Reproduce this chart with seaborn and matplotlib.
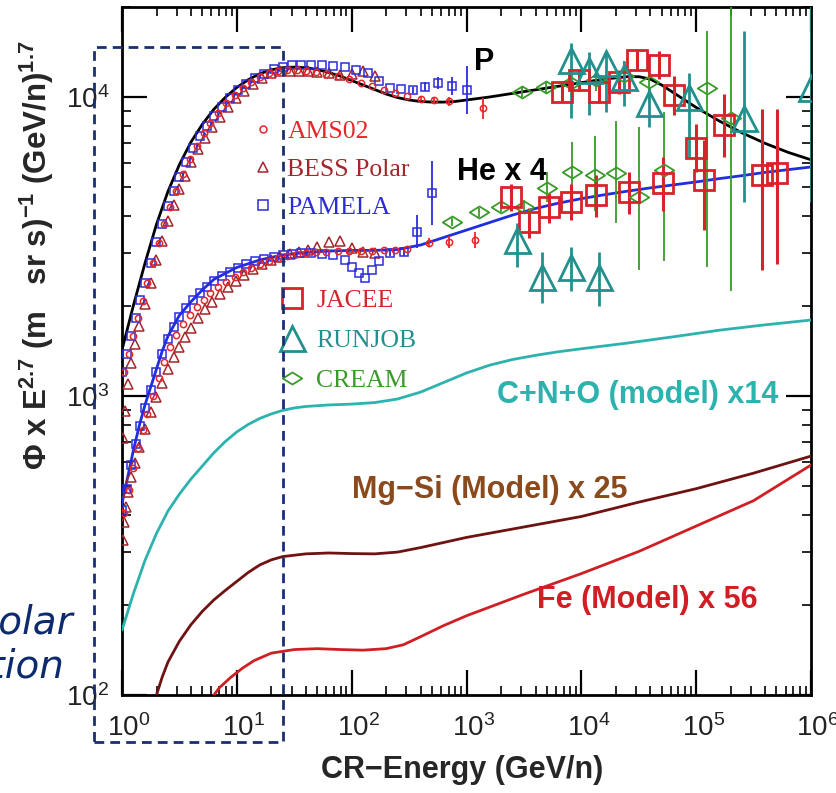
import numpy as np
import pandas as pd
import matplotlib
matplotlib.use("Agg")
import matplotlib.pyplot as plt
import matplotlib.transforms as mtransforms
import seaborn as sns
from matplotlib.lines import Line2D
from matplotlib.patches import Rectangle
from matplotlib.path import Path

# ------------------------------------------------------------------
# Model curves: log10(E [GeV/n]) and log10(flux x E^2.7)
# ------------------------------------------------------------------
p_model_logE = [0.0, 0.1, 0.2, 0.3, 0.4, 0.5, 0.6, 0.7, 0.8, 0.9, 1.0, 1.1, 1.2, 1.3, 1.4, 1.5,
                1.6, 1.7, 1.8, 1.9, 2.0, 2.1, 2.2, 2.3, 2.4, 2.5, 2.6, 2.7, 2.8, 2.9, 3.0, 3.1,
                3.2, 3.4, 3.6, 3.8, 4.0, 4.2, 4.4, 4.5, 4.6, 4.7, 4.8, 4.9, 5.0, 5.2, 5.4, 5.6,
                5.8, 6.0]
p_model_logF = [3.154, 3.304, 3.444, 3.574, 3.684, 3.774, 3.849, 3.909, 3.959, 3.999, 4.032, 4.058, 4.078, 4.091, 4.098, 4.1,
                4.098, 4.092, 4.082, 4.07, 4.055, 4.04, 4.025, 4.01, 3.998, 3.99, 3.985, 3.983, 3.983, 3.985, 3.99, 3.995,
                4.0, 4.012, 4.024, 4.036, 4.048, 4.06, 4.068, 4.068, 4.06, 4.04, 4.015, 3.99, 3.965, 3.92, 3.88, 3.845,
                3.815, 3.79]

he_model_logE = [0.0, 0.05, 0.1, 0.15, 0.2, 0.25, 0.3, 0.35, 0.4, 0.5, 0.6, 0.7, 0.8, 0.9, 1.0, 1.2,
                 1.4, 1.6, 1.8, 2.0, 2.2, 2.4, 2.6, 2.8, 3.0, 3.2, 3.4, 3.6, 3.8, 4.0, 4.2, 4.4,
                 4.6, 4.8, 5.0, 5.2, 5.4, 5.6, 5.8, 6.0]
he_model_logF = [2.64, 2.73, 2.82, 2.90, 2.97, 3.03, 3.09, 3.15, 3.2, 3.27, 3.315, 3.355, 3.39, 3.41, 3.43, 3.455,
                 3.472, 3.48, 3.485, 3.487, 3.487, 3.49, 3.505, 3.53, 3.555, 3.58, 3.605, 3.627, 3.645, 3.66, 3.673, 3.685,
                 3.696, 3.706, 3.716, 3.727, 3.737, 3.748, 3.757, 3.766]

cno_model_logE = [0.0, 0.1, 0.2, 0.3, 0.4, 0.5, 0.6, 0.7, 0.8, 0.9, 1.0, 1.1, 1.2, 1.3, 1.4, 1.5, 1.6,
                  1.8, 2.0, 2.2, 2.4, 2.6, 2.8, 3.0, 3.2, 3.4, 3.6, 3.8, 4.0, 4.4, 4.8, 5.2, 5.6, 6.0]
cno_model_logF = [2.217, 2.34, 2.45, 2.54, 2.615, 2.672, 2.722, 2.766, 2.81, 2.848, 2.88, 2.905, 2.925, 2.94, 2.952, 2.96, 2.965,
                  2.97, 2.973, 2.978, 2.99, 3.013, 3.045, 3.077, 3.103, 3.122, 3.136, 3.148, 3.158, 3.177, 3.198, 3.22, 3.238, 3.254]

mgsi_model_logE = [0.28, 0.3, 0.35, 0.4, 0.5, 0.6, 0.7, 0.8, 0.9, 1.0, 1.1, 1.2, 1.3, 1.4, 1.6, 1.8,
                   2.0, 2.2, 2.4, 2.6, 2.8, 3.0, 3.5, 4.0, 4.5, 5.0, 5.5, 6.0]
mgsi_model_logF = [1.98, 2.0, 2.06, 2.11, 2.18, 2.235, 2.28, 2.318, 2.35, 2.38, 2.41, 2.435, 2.452, 2.463, 2.472, 2.475,
                   2.473, 2.472, 2.478, 2.493, 2.51, 2.527, 2.562, 2.597, 2.645, 2.69, 2.742, 2.799]

fe_model_logE = [0.76, 0.78, 0.85, 0.95, 1.05, 1.15, 1.3, 1.5, 1.7, 1.9, 2.1, 2.3, 2.45, 2.6, 2.8,
                 3.0, 3.5, 4.0, 4.5, 5.0, 5.5, 6.0]
fe_model_logF = [1.98, 1.99, 2.025, 2.06, 2.09, 2.115, 2.14, 2.152, 2.155, 2.152, 2.15, 2.155, 2.168, 2.195, 2.232,
                 2.265, 2.337, 2.406, 2.48, 2.565, 2.65, 2.769]

# ------------------------------------------------------------------
# Low-energy measurements (log10 E, log10 flux, error half-width in dex)
# ------------------------------------------------------------------
pamela_p_logE = [0.0, 0.04, 0.08, 0.12, 0.16, 0.2, 0.25, 0.3, 0.35, 0.4, 0.45, 0.5, 0.56, 0.62, 0.68, 0.74,
                 0.8, 0.87, 0.94, 1.01, 1.08, 1.16, 1.24, 1.32, 1.4, 1.48, 1.56, 1.65, 1.74, 1.84, 1.94,
                 2.04, 2.14, 2.24, 2.33, 2.43, 2.53, 2.64, 2.75, 2.87, 3.0]
pamela_p_logF = [3.08, 3.139, 3.2, 3.262, 3.32, 3.378, 3.446, 3.514, 3.574, 3.634, 3.684, 3.734, 3.783, 3.829, 3.869, 3.904,
                 3.937, 3.968, 3.996, 4.022, 4.042, 4.062, 4.078, 4.093, 4.1, 4.106, 4.108, 4.108, 4.106, 4.104, 4.099,
                 4.091, 4.081, 4.054, 4.03, 4.026, 4.023, 4.035, 4.047, 4.037, 4.023]
pamela_p_err = [0] * 36 + [0.01, 0.015, 0.02, 0.03, 0.08]

ams02_p_logE = [0.02, 0.06, 0.1, 0.14, 0.18, 0.22, 0.27, 0.32, 0.37, 0.42, 0.47, 0.53, 0.59, 0.65, 0.71, 0.77,
                0.84, 0.91, 0.98, 1.05, 1.12, 1.2, 1.28, 1.36, 1.44, 1.52, 1.6, 1.69, 1.78, 1.88, 1.98,
                2.08, 2.18, 2.28, 2.38, 2.48, 2.6, 2.72, 2.85, 3.14]
ams02_p_logF = [3.079, 3.139, 3.202, 3.26, 3.319, 3.377, 3.444, 3.511, 3.574, 3.632, 3.687, 3.744, 3.792, 3.837, 3.879, 3.912,
                3.948, 3.979, 4.006, 4.029, 4.05, 4.068, 4.08, 4.087, 4.09, 4.09, 4.088, 4.085, 4.078, 4.07, 4.06,
                4.048, 4.038, 4.025, 4.012, 4.002, 3.995, 3.99, 3.985, 3.963]
ams02_p_err = [0] * 36 + [0.01, 0.01, 0.015, 0.035]

bess_p_logE = [0.005, 0.025, 0.05, 0.08, 0.11, 0.15, 0.2, 0.25, 0.3, 0.35, 0.4, 0.45, 0.5, 0.55, 0.6, 0.66,
               0.72, 0.78, 0.85, 0.92, 0.99, 1.06, 1.14, 1.22, 1.3, 1.38, 1.46, 1.54, 1.62, 1.7, 1.8, 1.9,
               2.0, 2.1, 2.2]
bess_p_logF = [2.86, 2.95, 3.04, 3.11, 3.175, 3.234, 3.309, 3.379, 3.454, 3.519, 3.584, 3.639, 3.692, 3.737, 3.781, 3.825,
               3.864, 3.899, 3.934, 3.966, 3.996, 4.02, 4.044, 4.064, 4.079, 4.086, 4.088, 4.088, 4.086, 4.085, 4.08, 4.075,
               4.078, 4.086, 4.07]

pamela_he_logE = [0.0, 0.04, 0.08, 0.12, 0.16, 0.2, 0.25, 0.3, 0.35, 0.4, 0.45, 0.5, 0.56, 0.62, 0.68, 0.74,
                  0.8, 0.87, 0.94, 1.01, 1.08, 1.16, 1.24, 1.32, 1.4, 1.48, 1.56, 1.65, 1.74, 1.84, 1.94,
                  2.0, 2.06, 2.12, 2.18, 2.24, 2.33, 2.46, 2.565, 2.696]
pamela_he_logF = [2.62, 2.69, 2.77, 2.84, 2.9, 2.96, 3.02, 3.08, 3.14, 3.19, 3.23, 3.265, 3.295, 3.32, 3.345, 3.365,
                  3.385, 3.4, 3.415, 3.428, 3.44, 3.45, 3.458, 3.465, 3.47, 3.474, 3.477, 3.478, 3.475, 3.47, 3.455,
                  3.43, 3.41, 3.395, 3.42, 3.45, 3.478, 3.482, 3.549, 3.679]
pamela_he_err = [0] * 36 + [0.01, 0.015, 0.055, 0.107]

ams02_he_logE = [0.02, 0.06, 0.1, 0.14, 0.18, 0.22, 0.27, 0.32, 0.37, 0.42, 0.47, 0.53, 0.59, 0.65, 0.71, 0.77,
                 0.84, 0.91, 0.98, 1.05, 1.12, 1.2, 1.28, 1.36, 1.44, 1.52, 1.6, 1.69, 1.78, 1.88, 1.98,
                 2.08, 2.18, 2.28, 2.38, 2.48, 2.67, 2.85, 3.07]
ams02_he_logF = [2.61, 2.685, 2.76, 2.825, 2.885, 2.94, 3.0, 3.06, 3.115, 3.165, 3.205, 3.24, 3.27, 3.298, 3.32, 3.343,
                 3.365, 3.38, 3.398, 3.415, 3.428, 3.44, 3.452, 3.46, 3.468, 3.474, 3.478, 3.48, 3.482, 3.484, 3.485,
                 3.486, 3.486, 3.487, 3.488, 3.49, 3.512, 3.515, 3.522]
ams02_he_err = [0] * 36 + [0.015, 0.02, 0.027]

bess_he_logE = [0.005, 0.02, 0.035, 0.05, 0.08, 0.11, 0.15, 0.2, 0.25, 0.3, 0.35, 0.4, 0.45, 0.5, 0.55, 0.6,
                0.66, 0.72, 0.78, 0.85, 0.92, 0.99, 1.06, 1.14, 1.22, 1.3, 1.38, 1.46, 1.54, 1.62, 1.7, 1.8,
                1.9, 2.0, 2.1, 2.2]
bess_he_logF = [2.52, 2.58, 2.63, 2.68, 2.73, 2.775, 2.83, 2.89, 2.945, 2.995, 3.045, 3.09, 3.13, 3.165, 3.198, 3.228,
                3.26, 3.29, 3.315, 3.34, 3.365, 3.385, 3.405, 3.425, 3.44, 3.455, 3.465, 3.475, 3.48, 3.488, 3.5, 3.515,
                3.52, 3.495, 3.48, 3.478]

# ------------------------------------------------------------------
# High-energy measurements (log10 E, log10 flux, lower / upper ends of error bar)
# ------------------------------------------------------------------
jacee_p_logE = [3.835, 3.98, 4.157, 4.33, 4.487, 4.678, 4.81, 5.0, 5.24]
jacee_p_logF = [4.017, 4.057, 4.017, 4.05, 4.124, 4.107, 4.007, 3.829, 3.906]
jacee_p_lo = [3.987, 4.02, 3.98, 4.01, 4.09, 4.06, 3.94, 3.75, 3.80]
jacee_p_hi = [4.047, 4.094, 4.054, 4.09, 4.16, 4.155, 4.07, 3.91, 4.01]

jacee_he_logE = [3.39, 3.548, 3.722, 3.913, 4.13, 4.417, 4.713, 5.07, 5.574, 5.704]
jacee_he_logF = [3.666, 3.582, 3.632, 3.649, 3.672, 3.682, 3.712, 3.722, 3.739, 3.746]
jacee_he_lo = [3.62, 3.53, 3.58, 3.59, 3.60, 3.61, 3.62, 3.555, 3.42, 3.44]
jacee_he_hi = [3.71, 3.63, 3.68, 3.71, 3.74, 3.75, 3.80, 3.856, 3.96, 3.96]

runjob_p_logE = [3.913, 4.07, 4.217, 4.374, 4.59, 4.94, 5.417, 6.0]
runjob_p_logF = [4.124, 4.09, 4.114, 4.067, 3.98, 4.0, 3.93, 4.03]
runjob_p_lo = [3.93, 3.94, 3.95, 3.97, 3.9, 3.8, 3.65, 3.65]
runjob_p_hi = [4.18, 4.15, 4.15, 4.12, 4.03, 4.08, 4.22, 4.4]

runjob_he_logE = [3.443, 3.66, 3.913, 4.157]
runjob_he_logF = [3.522, 3.398, 3.431, 3.398]
runjob_he_lo = [3.43, 3.31, 3.35, 3.30]
runjob_he_hi = [3.58, 3.48, 3.50, 3.48]

cream_p_logE = [3.487, 3.696, 3.913, 4.13, 4.374, 4.59, 5.096, 5.3]
cream_p_logF = [4.017, 4.033, 4.047, 4.057, 4.07, 4.05, 4.03, 3.93]
cream_p_lo = [4.0, 4.015, 4.02, 4.02, 4.02, 3.98, 3.43, 3.35]
cream_p_hi = [4.035, 4.05, 4.075, 4.095, 4.12, 4.12, 4.22, 4.3]

cream_he_logE = [2.878, 3.113, 3.304, 3.5, 3.704, 3.922, 4.12, 4.304, 4.504, 4.722]
cream_he_logF = [3.582, 3.615, 3.632, 3.632, 3.696, 3.749, 3.739, 3.746, 3.666, 3.756]
cream_he_lo = [3.57, 3.60, 3.615, 3.61, 3.65, 3.66, 3.62, 3.58, 3.42, 3.45]
cream_he_hi = [3.595, 3.63, 3.65, 3.655, 3.75, 3.85, 3.87, 3.92, 3.9, 3.95]

# ------------------------------------------------------------------
# Colours
# ------------------------------------------------------------------
c_ams = "#e8262a"
c_bess = "#a3262a"
c_pamela = "#2b2bdc"
c_jacee = "#d8232a"
c_runjob = "#22908d"
c_cream = "#3a9a2a"
c_he_line = "#1f2fe0"
c_cno = "#2cb3ad"
c_mgsi = "#6e1212"
c_mgsi_txt = "#8b4a1c"
c_fe = "#d01f24"
c_navy = "#1b2f6e"

sns.set_theme(style="ticks")
plt.rcParams["font.family"] = ["Liberation Sans", "DejaVu Sans"]
plt.rcParams["mathtext.fontset"] = "custom"
plt.rcParams["mathtext.rm"] = "Liberation Sans"
plt.rcParams["mathtext.it"] = "Liberation Sans:italic"
plt.rcParams["mathtext.bf"] = "Liberation Sans:bold"

W, H = 836, 793
fig = plt.figure(figsize=(W / 100, H / 100), dpi=100)
ax = fig.add_axes([122 / W, 1 - 695 / H, (811 - 122) / W, (695 - 7) / H])
ax.set_xscale("log")
ax.set_yscale("log")
ax.set_xlim(1, 1e6)
ax.set_ylim(100, 2e4)


def lin(v):
    return 10 ** np.asarray(v, dtype=float)


def model(logE, logF, color):
    df = pd.DataFrame({"E": lin(logE), "F": lin(logF)})
    sns.lineplot(data=df, x="E", y="F", color=color, lw=2.0, ax=ax,
                 sort=False, estimator=None, zorder=3)


def points(logE, logF, err, marker, color, ms, mew):
    E, F = lin(logE), lin(logF)
    e = np.asarray(err, dtype=float)
    mask = e > 0
    if mask.any():
        ax.errorbar(E[mask], F[mask],
                    yerr=[F[mask] - F[mask] * 10 ** -e[mask], F[mask] * 10 ** e[mask] - F[mask]],
                    fmt="none", ecolor=color, elinewidth=1.3, capsize=0, zorder=4)
    ax.plot(E, F, ls="none", marker=marker, mfc="none", mec=color, ms=ms, mew=mew, zorder=5)


def big_points(logE, logF, lo, hi, marker, color, ms, mew, elw):
    E, F = lin(logE), lin(logF)
    ax.errorbar(E, F, yerr=[F - lin(lo), lin(hi) - F], fmt="none", ecolor=color,
                elinewidth=elw, capsize=0, zorder=4)
    ax.plot(E, F, ls="none", marker=marker, mfc="none", mec=color, ms=ms, mew=mew, zorder=5)


diamond = Path([(-1, 0), (0, 0.62), (1, 0), (0, -0.62), (-1, 0)],
               [Path.MOVETO, Path.LINETO, Path.LINETO, Path.LINETO, Path.CLOSEPOLY])

# model curves (drawn first, data on top)
model(p_model_logE, p_model_logF, "black")
model(he_model_logE, he_model_logF, c_he_line)
model(cno_model_logE, cno_model_logF, c_cno)
model(mgsi_model_logE, mgsi_model_logF, c_mgsi)
model(fe_model_logE, fe_model_logF, c_fe)

# low-energy data
points(bess_p_logE, bess_p_logF, [0] * len(bess_p_logE), "^", c_bess, 7, 1.1)
points(bess_he_logE, bess_he_logF, [0] * len(bess_he_logE), "^", c_bess, 7, 1.1)
points(pamela_p_logE, pamela_p_logF, pamela_p_err, "s", c_pamela, 6, 1.1)
points(pamela_he_logE, pamela_he_logF, pamela_he_err, "s", c_pamela, 6, 1.1)
points(ams02_p_logE, ams02_p_logF, ams02_p_err, "o", c_ams, 4.5, 1.1)
points(ams02_he_logE, ams02_he_logF, ams02_he_err, "o", c_ams, 4.5, 1.1)

# high-energy data
big_points(cream_p_logE, cream_p_logF, cream_p_lo, cream_p_hi, diamond, c_cream, 14, 1.3, 1.3)
big_points(cream_he_logE, cream_he_logF, cream_he_lo, cream_he_hi, diamond, c_cream, 14, 1.3, 1.3)
big_points(jacee_p_logE, jacee_p_logF, jacee_p_lo, jacee_p_hi, "s", c_jacee, 15, 2.0, 2.2)
big_points(jacee_he_logE, jacee_he_logF, jacee_he_lo, jacee_he_hi, "s", c_jacee, 15, 2.0, 2.2)
big_points(runjob_p_logE, runjob_p_logF, runjob_p_lo, runjob_p_hi, "^", c_runjob, 18, 2.0, 2.0)
big_points(runjob_he_logE, runjob_he_logF, runjob_he_lo, runjob_he_hi, "^", c_runjob, 18, 2.0, 2.0)

# axes styling
ax.xaxis.set_major_locator(matplotlib.ticker.LogLocator(base=10, numticks=10))
ax.xaxis.set_minor_locator(matplotlib.ticker.LogLocator(base=10, subs=np.arange(2, 10), numticks=20))
ax.yaxis.set_major_locator(matplotlib.ticker.LogLocator(base=10, numticks=10))
ax.yaxis.set_minor_locator(matplotlib.ticker.LogLocator(base=10, subs=np.arange(2, 10), numticks=20))
for s in ax.spines.values():
    s.set_linewidth(2.0)
    s.set_color("black")
ax.tick_params(axis="x", which="major", direction="in", length=18, width=1.6, top=True,
               labelsize=20, pad=14, colors="black", labelcolor="#222222")
ax.tick_params(axis="y", which="major", direction="in", length=18, width=1.6, right=True,
               labelsize=20, pad=9, colors="black", labelcolor="#222222")
ax.tick_params(which="minor", direction="in", length=6.5, width=1.4, top=True, right=True)
ax.set_xlabel("")
ax.set_ylabel("")

# the exponent hangs to the right: nudge the x tick labels so the "10" sits near the tick
fig.canvas.draw()
shift = mtransforms.ScaledTranslation(7 / 100, 0, fig.dpi_scale_trans)
for t in ax.get_xticklabels():
    t.set_transform(t.get_transform() + shift)

fig.text(462 / W, 1 - 770 / H, "CR\u2212Energy (GeV/n)", ha="center", va="center",
         fontsize=22, fontweight="bold")
fig.text(37 / W, 1 - 255 / H,
         r"$\mathbf{\Phi}$ x E$^{\mathbf{2.7}}$ (m   sr s)$^{\mathbf{-1}}$ (GeV/n)$^{\mathbf{1.7}}$",
         rotation=90, ha="center", va="center", fontsize=22.5, fontweight="bold")

# curve annotations
lab = dict(ha="center", va="center", fontsize=22, fontweight="bold")
ax.text(1435, 13100, "P", color="black", **lab)
ax.text(2020, 5610, "He x 4", color="black", **lab)
ax.text(30700, 1007, "C+N+O (model) x14", color=c_cno, **lab)
ax.text(1585, 485, "Mg\u2212Si (Model) x 25", color=c_mgsi_txt, **lab)
ax.text(37500, 208, "Fe (Model) x 56", color=c_fe, **lab)

# legends
serif = {"family": "Liberation Serif", "size": 18.5}
h1 = [Line2D([], [], ls="none", marker="o", mfc="none", mec=c_ams, ms=5, mew=1.1),
      Line2D([], [], ls="none", marker="^", mfc="none", mec=c_bess, ms=7, mew=1.1),
      Line2D([], [], ls="none", marker="s", mfc="none", mec=c_pamela, ms=6.5, mew=1.1)]
leg1 = ax.legend(h1, ["AMS02", "BESS Polar", "PAMELA"], loc="upper left",
                 bbox_to_anchor=(250 / W, 1 - 120 / H), bbox_transform=fig.transFigure,
                 frameon=False, prop=serif, labelcolor=[c_ams, c_bess, c_pamela],
                 handlelength=1.0, handletextpad=0.45, labelspacing=0.58,
                 borderpad=0, borderaxespad=0)
ax.add_artist(leg1)
h2 = [Line2D([], [], ls="none", marker="s", mfc="none", mec=c_jacee, ms=15, mew=2.0),
      Line2D([], [], ls="none", marker="^", mfc="none", mec=c_runjob, ms=18, mew=2.0),
      Line2D([], [], ls="none", marker=diamond, mfc="none", mec=c_cream, ms=14, mew=1.3)]
leg2 = ax.legend(h2, ["JACEE", "RUNJOB", "CREAM"], loc="upper left",
                 bbox_to_anchor=(279 / W, 1 - 289 / H), bbox_transform=fig.transFigure,
                 frameon=False, prop=serif, labelcolor=[c_jacee, c_runjob, c_cream],
                 handlelength=1.0, handletextpad=0.45, labelspacing=0.66,
                 borderpad=0, borderaxespad=0)

# dashed frame and side caption
fig.add_artist(Rectangle((94 / W, 1 - 742 / H), (283 - 94) / W, (742 - 47) / H,
                         transform=fig.transFigure, fill=False, ec=c_navy, lw=2.0,
                         ls=(0, (3.5, 2.2)), zorder=10))
fig.text(73 / W, 1 - 633 / H, "solar", ha="right", va="baseline", fontsize=28,
         style="italic", family="DejaVu Sans", color="#0d2a6e")
fig.text(65 / W, 1 - 678 / H, "modulation", ha="right", va="baseline", fontsize=28,
         style="italic", family="DejaVu Sans", color="#0d2a6e")

fig.savefig("out.png", dpi=100, facecolor="white")
